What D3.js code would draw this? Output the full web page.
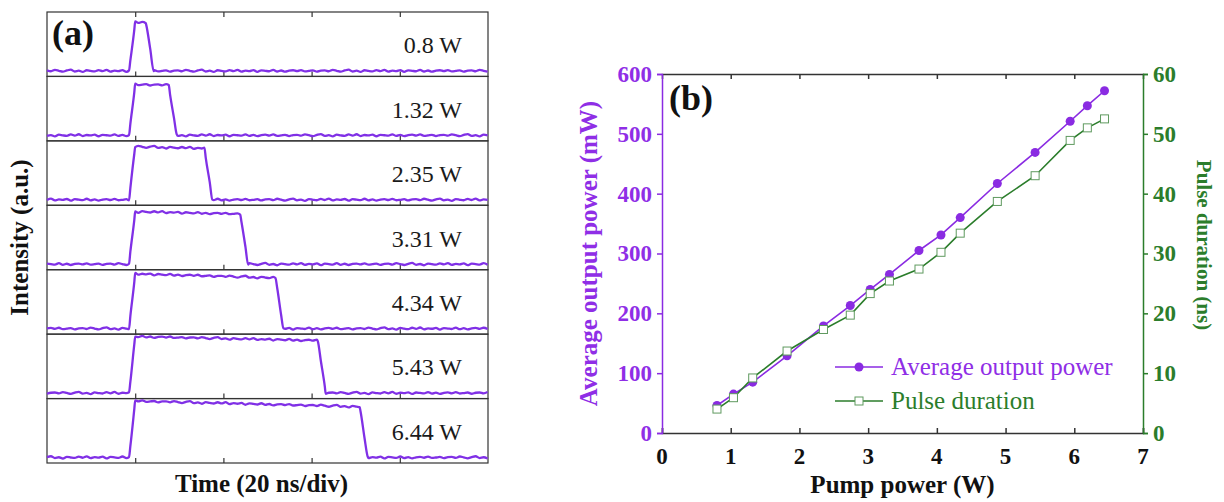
<!DOCTYPE html>
<html>
<head>
<meta charset="utf-8">
<script src="https://cdn.jsdelivr.net/npm/d3@7"></script>
<style>
  html, body { margin: 0; padding: 0; background: #fff; }
  svg { display: block; }
  text { font-family: "Liberation Serif", "Times New Roman", serif; }
</style>
</head>
<body>
<svg id="fig" width="1224" height="502"></svg>
<script>
// ---- measured laser output vs. pump power ----
const pumpPower     = [0.80, 1.04, 1.32, 1.82, 2.35, 2.74, 3.03, 3.31, 3.74, 4.06, 4.34, 4.88, 5.43, 5.94, 6.19, 6.44];
const avgPower      = [46, 65, 85, 129, 179, 213, 240, 265, 305, 331, 360, 417, 469, 521, 547, 572];
const pulseDuration = [4.0, 5.9, 9.2, 13.7, 17.3, 19.7, 23.3, 25.4, 27.4, 30.2, 33.4, 38.7, 43.0, 48.9, 51.0, 52.5];

// ---- oscilloscope traces (panel a) ----
const traceLabels = ["0.8 W", "1.32 W", "2.35 W", "3.31 W", "4.34 W", "5.43 W", "6.44 W"];
const traceIndex  = [0, 2, 4, 7, 10, 12, 15];          // rows of the arrays above
const tracePeak   = [0.86, 0.90, 0.94, 0.93, 0.97, 1.00, 1.00];
const traceDroop  = [0.00, 0.01, 0.03, 0.04, 0.07, 0.07, 0.10];
const pulseOnset  = 19.3;                               // ns, half-height of rising edge
// scope noise, in units of pulse height
const ripple = [0.010, -0.006, 0.018, 0.002, -0.014, 0.008, 0.022, -0.010, 0.004, -0.018,
                0.012, 0.000, -0.008, 0.016, -0.004, 0.020, -0.012, 0.006, -0.002, 0.014,
                -0.016, 0.010, 0.002, -0.006, 0.018, -0.010, 0.008, -0.014, 0.004, 0.012,
                -0.004, 0.016, -0.008, 0.000, 0.010, -0.012, 0.006];

const xTicksB = [0, 1, 2, 3, 4, 5, 6, 7];
const yTicksL = [0, 100, 200, 300, 400, 500, 600];
const yTicksR = [0, 10, 20, 30, 40, 50, 60];

const PURPLE = "#8a2be2";
const TRACE = "#8030e6";
const PURPLE_TXT = "#8f2ee6";
const GREEN = "#2b7d2b";
const AXIS = "#333";
const SERIF = "Liberation Serif, Times New Roman, serif";

const svg = d3.select("#fig");

// ================= panel (a) =================
const A = { left: 47, right: 488, top: 12, bottom: 463 };
const nRows = traceLabels.length;
const rowH = (A.bottom - A.top) / nRows;
const tx = d3.scaleLinear().domain([0, 100]).range([A.left, A.right]);
const timeTicks = [20, 40, 60, 80];

const ga = svg.append("g");

function traceLevel(k, t) {
  const w = pulseDuration[traceIndex[k]];
  const rise = 1.4, fall = 1.8;
  const t1 = pulseOnset - rise / 2, t2 = pulseOnset + rise / 2;
  const t3 = pulseOnset + w - fall / 2, t4 = pulseOnset + w + fall / 2;
  const pk = tracePeak[k];
  const topAt = tt => pk - traceDroop[k] * (tt - t2) / Math.max(t3 - t2, 0.01);
  if (t <= t1 || t >= t4) return 0;
  if (t < t2) return topAt(t2) * (t - t1) / rise;
  if (t <= t3) return topAt(t);
  return topAt(t3) * (t4 - t) / fall;
}

for (let k = 0; k < nRows; k++) {
  const y0 = A.top + k * rowH;
  const ys = d3.scaleLinear().domain([0, 1]).range([y0 + rowH - 5.5, y0 + 2.5]);
  const g = ga.append("g");

  // frame of the row
  g.append("rect")
    .attr("x", A.left).attr("y", y0)
    .attr("width", A.right - A.left).attr("height", rowH)
    .attr("fill", "none").attr("stroke", AXIS).attr("stroke-width", 1.2);

  // inward ticks along the bottom of each row
  g.append("g").attr("transform", `translate(0,${y0 + rowH})`)
    .call(d3.axisTop(tx).tickValues(timeTicks).tickSize(5).tickFormat(""))
    .call(s => s.select(".domain").remove())
    .call(s => s.selectAll("line").attr("stroke", AXIS).attr("stroke-width", 1.2));
  if (k === 0) {
    g.append("g").attr("transform", `translate(0,${y0})`)
      .call(d3.axisBottom(tx).tickValues(timeTicks).tickSize(5).tickFormat(""))
      .call(s => s.select(".domain").remove())
      .call(s => s.selectAll("line").attr("stroke", AXIS).attr("stroke-width", 1.2));
  }

  // sample the trace
  const w = pulseDuration[traceIndex[k]];
  let times = d3.range(0, 100.001, 0.9);
  times = times.concat([pulseOnset - 0.7, pulseOnset + 0.7, pulseOnset + w - 0.9, pulseOnset + w + 0.9]);
  times.sort((a, b) => a - b);
  const pts = times.map((t, i) => [t, traceLevel(k, t) + ripple[(i + k * 7) % ripple.length]]);

  g.append("path")
    .datum(pts)
    .attr("fill", "none")
    .attr("stroke", TRACE)
    .attr("stroke-width", 2.3)
    .attr("stroke-linejoin", "round")
    .attr("d", d3.line().x(d => tx(d[0])).y(d => ys(d[1])).curve(d3.curveMonotoneX));

  g.append("text")
    .attr("x", 462).attr("y", y0 + rowH / 2 + 1)
    .attr("text-anchor", "end").attr("dominant-baseline", "central")
    .attr("font-family", SERIF)
    .attr("font-size", 24).attr("fill", "#1a1a1a")
    .text(traceLabels[k]);
}

ga.append("text").attr("x", 52).attr("y", 45).attr("font-family", SERIF)
  .attr("font-size", 36).attr("font-weight", "bold").attr("fill", "#111").text("(a)");

ga.append("text")
  .attr("transform", `translate(28,${(A.top + A.bottom) / 2}) rotate(-90)`)
  .attr("text-anchor", "middle").attr("font-size", 25).attr("font-weight", "bold")
  .attr("font-family", SERIF).attr("fill", "#111").text("Intensity (a.u.)");

ga.append("text")
  .attr("x", (A.left + A.right) / 2 - 6).attr("y", 492)
  .attr("text-anchor", "middle").attr("font-size", 25).attr("font-weight", "bold")
  .attr("font-family", SERIF).attr("fill", "#111").text("Time (20 ns/div)");

// ================= panel (b) =================
const B = { left: 662, right: 1143, top: 74, bottom: 433 };
const x = d3.scaleLinear().domain([0, 7]).range([B.left, B.right]);
const yL = d3.scaleLinear().domain([0, 600]).range([B.bottom, B.top]);
const yR = d3.scaleLinear().domain([0, 60]).range([B.bottom, B.top]);

const gb = svg.append("g");

// bottom axis (ticks inward)
gb.append("g").attr("transform", `translate(0,${B.bottom})`)
  .call(d3.axisTop(x).tickValues(xTicksB).tickSize(5).tickFormat(""))
  .call(s => s.select(".domain").attr("stroke", AXIS).attr("stroke-width", 1.5))
  .call(s => s.selectAll(".tick line").attr("stroke", AXIS).attr("stroke-width", 1.5));
gb.append("g").selectAll("text").data(xTicksB).join("text")
  .attr("x", d => x(d)).attr("y", B.bottom + 31)
  .attr("text-anchor", "middle").attr("font-size", 23).attr("font-weight", "bold")
  .attr("font-family", SERIF).attr("fill", "#111").text(d => d);

// top axis (ticks inward)
gb.append("g").attr("transform", `translate(0,${B.top})`)
  .call(d3.axisBottom(x).tickValues(xTicksB.slice(1, -1)).tickSize(5).tickFormat(""))
  .call(s => s.select(".domain").attr("stroke", AXIS).attr("stroke-width", 1.5))
  .call(s => s.selectAll(".tick line").attr("stroke", AXIS).attr("stroke-width", 1.5));

// left axis
gb.append("g").attr("transform", `translate(${B.left},0)`)
  .call(d3.axisLeft(yL).tickValues(yTicksL).tickSize(5).tickPadding(5).tickFormat(d3.format("d")))
  .call(s => s.select(".domain").attr("stroke", PURPLE).attr("stroke-width", 1.5))
  .call(s => s.selectAll(".tick line").attr("stroke", PURPLE).attr("stroke-width", 1.5))
  .call(s => s.selectAll(".tick text").attr("fill", PURPLE_TXT).attr("font-size", 23)
    .attr("font-weight", "bold").attr("font-family", SERIF));

// right axis
gb.append("g").attr("transform", `translate(${B.right},0)`)
  .call(d3.axisRight(yR).tickValues(yTicksR).tickSize(5).tickPadding(5).tickFormat(d3.format("d")))
  .call(s => s.select(".domain").attr("stroke", GREEN).attr("stroke-width", 1.5))
  .call(s => s.selectAll(".tick line").attr("stroke", GREEN).attr("stroke-width", 1.5))
  .call(s => s.selectAll(".tick text").attr("fill", GREEN).attr("font-size", 23)
    .attr("font-weight", "bold").attr("font-family", SERIF));

// axis titles
gb.append("text")
  .attr("transform", `translate(597,${(B.top + B.bottom) / 2}) rotate(-90)`)
  .attr("text-anchor", "middle").attr("font-size", 25).attr("font-weight", "bold")
  .attr("font-family", SERIF).attr("fill", PURPLE_TXT).text("Average output power (mW)");
gb.append("text")
  .attr("transform", `translate(1197,245) rotate(90)`)
  .attr("text-anchor", "middle").attr("font-size", 21).attr("font-weight", "bold")
  .attr("font-family", SERIF).attr("fill", GREEN).text("Pulse duration (ns)");
gb.append("text")
  .attr("x", (B.left + B.right) / 2).attr("y", 493)
  .attr("text-anchor", "middle").attr("font-size", 25).attr("font-weight", "bold")
  .attr("font-family", SERIF).attr("fill", "#111").text("Pump power (W)");

gb.append("text").attr("x", 669).attr("y", 110).attr("font-family", SERIF)
  .attr("font-size", 36).attr("font-weight", "bold").attr("fill", "#111").text("(b)");

// series
const idx = d3.range(pumpPower.length);
gb.append("path").datum(idx)
  .attr("fill", "none").attr("stroke", PURPLE).attr("stroke-width", 1.6)
  .attr("d", d3.line().x(i => x(pumpPower[i])).y(i => yL(avgPower[i])));
gb.append("g").selectAll("circle").data(idx).join("circle")
  .attr("cx", i => x(pumpPower[i])).attr("cy", i => yL(avgPower[i]))
  .attr("r", 4.5).attr("fill", PURPLE);

gb.append("path").datum(idx)
  .attr("fill", "none").attr("stroke", GREEN).attr("stroke-width", 1.6)
  .attr("d", d3.line().x(i => x(pumpPower[i])).y(i => yR(pulseDuration[i])));
gb.append("g").selectAll("rect").data(idx).join("rect")
  .attr("x", i => x(pumpPower[i]) - 4).attr("y", i => yR(pulseDuration[i]) - 4)
  .attr("width", 8).attr("height", 8)
  .attr("fill", "#fff").attr("stroke", "#5f9a5f").attr("stroke-width", 1);

// legend
const lg = gb.append("g");
const legendRows = [
  { label: "Average output power", color: PURPLE, txt: PURPLE_TXT, marker: "circle", y: 367 },
  { label: "Pulse duration", color: GREEN, txt: GREEN, marker: "square", y: 401 }
];
legendRows.forEach(r => {
  lg.append("line").attr("x1", 835).attr("x2", 883).attr("y1", r.y).attr("y2", r.y)
    .attr("stroke", r.color).attr("stroke-width", 1.6);
  if (r.marker === "circle") {
    lg.append("circle").attr("cx", 859).attr("cy", r.y).attr("r", 4.5).attr("fill", r.color);
  } else {
    lg.append("rect").attr("x", 855).attr("y", r.y - 4).attr("width", 8).attr("height", 8)
      .attr("fill", "#fff").attr("stroke", "#5f9a5f").attr("stroke-width", 1);
  }
  lg.append("text").attr("x", 891).attr("y", r.y + 8).attr("font-family", SERIF)
    .attr("font-size", 25).attr("fill", r.txt).text(r.label);
});
</script>
</body>
</html>
